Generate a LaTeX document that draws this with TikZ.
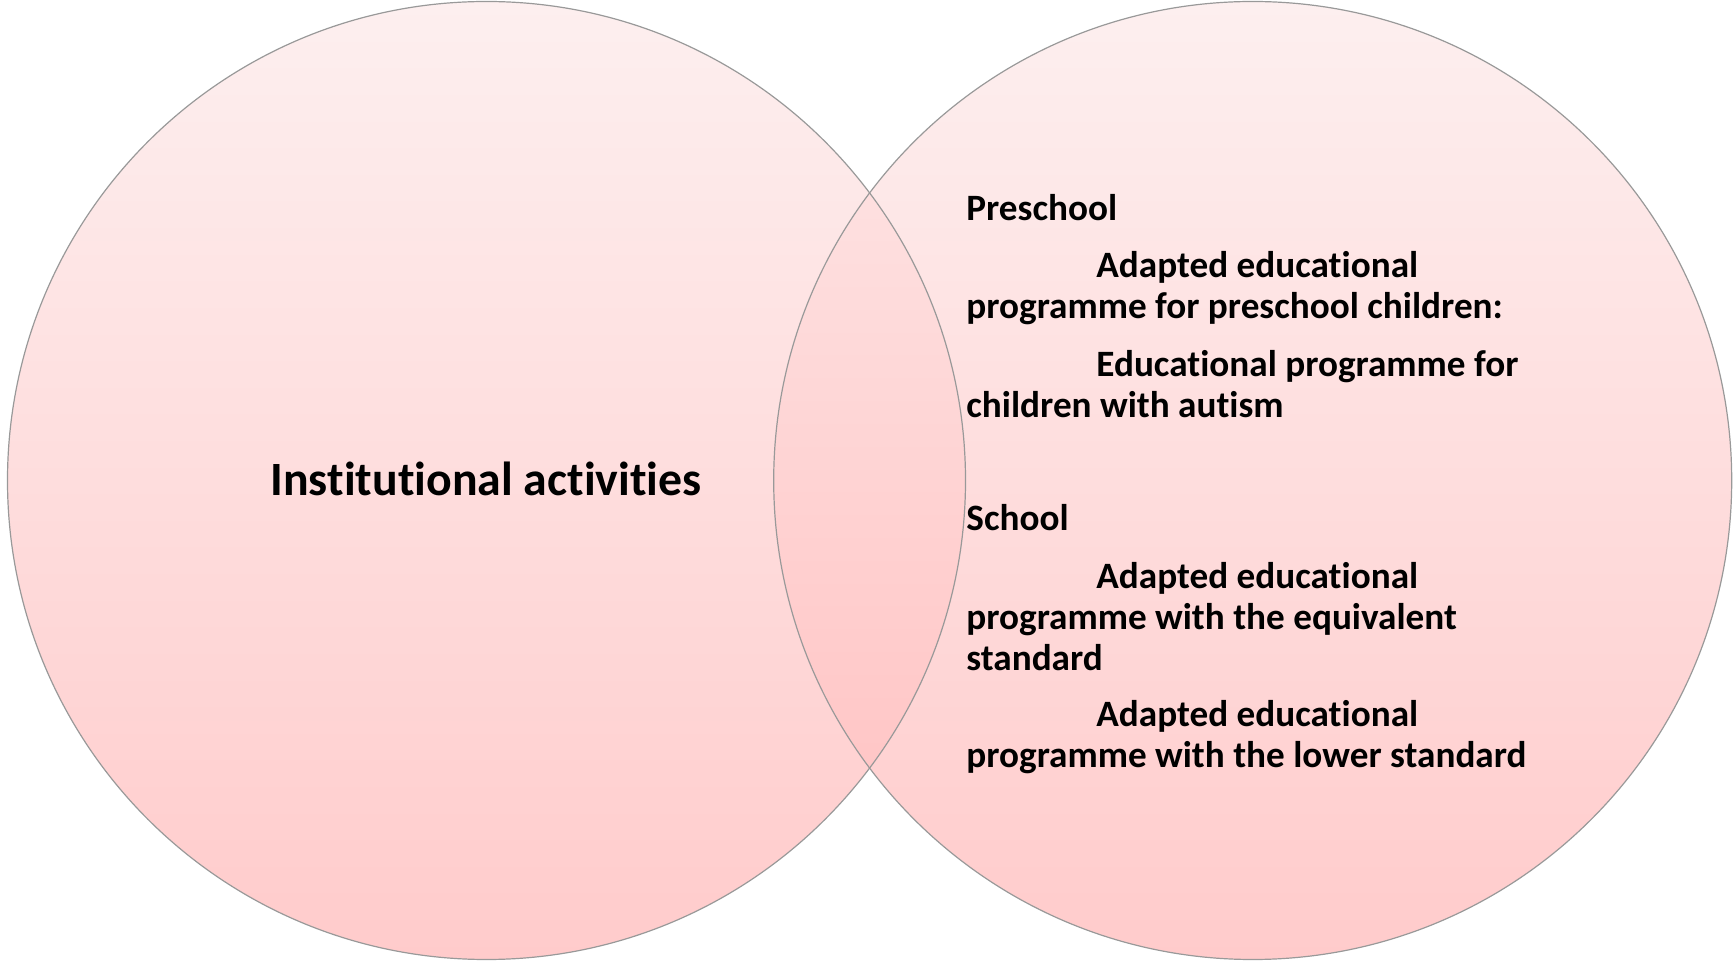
\documentclass[tikz,border=0pt]{standalone}
\usepackage{fontspec}
\setmainfont{Carlito}[Ligatures={NoCommon}]
\begin{document}
\begin{tikzpicture}[x=0.5pt,y=-0.5pt,
  ring/.style={draw=black!40, line width=0.6pt},
  bigtext/.style={font=\bfseries\fontsize{23.9}{28}\selectfont, inner sep=0pt, anchor=base},
  itemtext/.style={font=\bfseries\fontsize{18.6}{20.5}\selectfont, inner sep=0pt, anchor=base west}]
\useasboundingbox (0,0) rectangle (1735,961);
\coordinate (lc) at (486.5,480.5);
\coordinate (rc) at (1252.7,480.5);
% circles
\shade[top color={rgb,255:red,253;green,239;blue,239}, bottom color={rgb,255:red,255;green,203;blue,203}] (lc) circle[radius=239.5pt];
\shade[top color={rgb,255:red,253;green,239;blue,239}, bottom color={rgb,255:red,255;green,203;blue,203}] (rc) circle[radius=239.5pt];
\begin{scope}
  \clip (lc) circle[radius=239.5pt];
  \shade[top color={rgb,255:red,254;green,232;blue,232}, bottom color={rgb,255:red,255;green,190;blue,190}] (rc) circle[radius=239.5pt];
\end{scope}
\draw[ring] (lc) circle[radius=239.5pt];
\draw[ring] (rc) circle[radius=239.5pt];
% texts
\node[bigtext] (inst) at (486,496) {Institutional activities};
\node[itemtext] (pre) at (966,221) {Preschool};
\node[itemtext] (pre1a) at (1096,278) {Adapted educational};
\node[itemtext] (pre1b) at (966,319) {programme for preschool children:};
\node[itemtext] (pre2a) at (1096,376.5) {Educational programme for};
\node[itemtext] (pre2b) at (966,417.5) {children with autism};
\node[itemtext] (sch) at (966,531) {School};
\node[itemtext] (sch1a) at (1096,589) {Adapted educational};
\node[itemtext] (sch1b) at (966,630) {programme with the equivalent};
\node[itemtext] (sch1c) at (966,671) {standard};
\node[itemtext] (sch2a) at (1096,727) {Adapted educational};
\node[itemtext] (sch2b) at (966,768) {programme with the lower standard};
\end{tikzpicture}
\end{document}
